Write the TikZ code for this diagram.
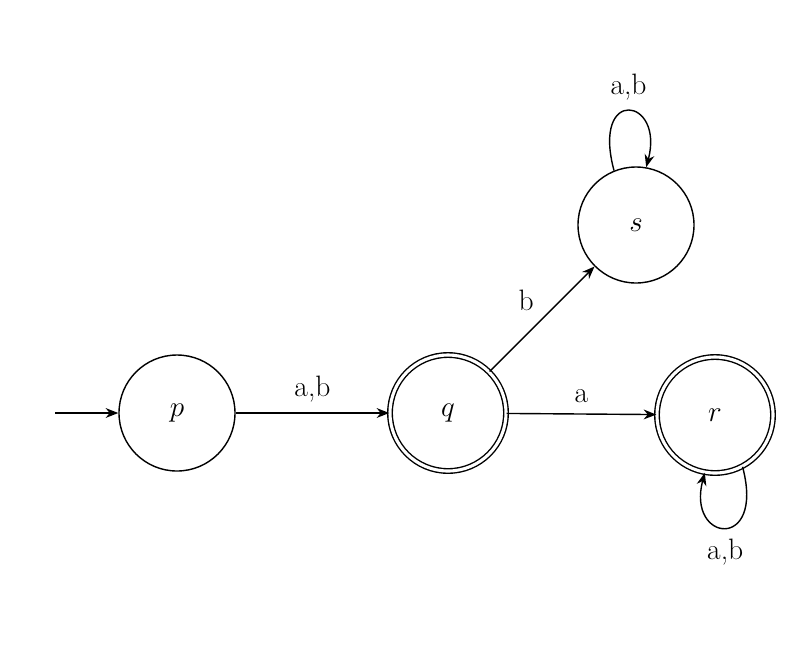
\documentclass[tikz,border=0pt]{standalone}
\usetikzlibrary{arrows.meta}
\begin{document}
\begin{tikzpicture}[x=1cm,y=1cm,
  every node/.style={font=\fontsize{21}{25}\selectfont},
  st/.style={circle,draw,line width=1pt,minimum size=2.9cm,inner sep=0pt},
  acc/.style={st,double,double distance=2.2pt},
  ar/.style={-{Stealth[length=9pt,width=7pt]},line width=1pt}]
\useasboundingbox (0,0) rectangle (20,-16.125);
\node[st] (p) at (4.425,-10.325) {$p$};
\node[acc] (q) at (11.2,-10.325) {$q$};
\node[st] (s) at (15.9,-5.625) {$s$};
\node[acc] (r) at (17.875,-10.375) {$r$};
\coordinate (i) at (1.375,-10.325);
\draw[ar] (i) -- (p);
\draw[ar] (p) -- node[above=4pt] {a,b} (q);
\draw[ar] (q) -- node[above=4pt] {a} (r);
\draw[ar] (q) -- node[above left=2pt] {b} (s);
\draw[ar] (s.112) .. controls +(105:2.2) and +(75:1.8) .. (s.80) node[pos=0.5,above=4pt] {a,b};
\draw[ar] (r.-62) .. controls +(-75:2.2) and +(-105:1.8) .. (r.-100) node[pos=0.5,below=4pt] {a,b};
\end{tikzpicture}
\end{document}
